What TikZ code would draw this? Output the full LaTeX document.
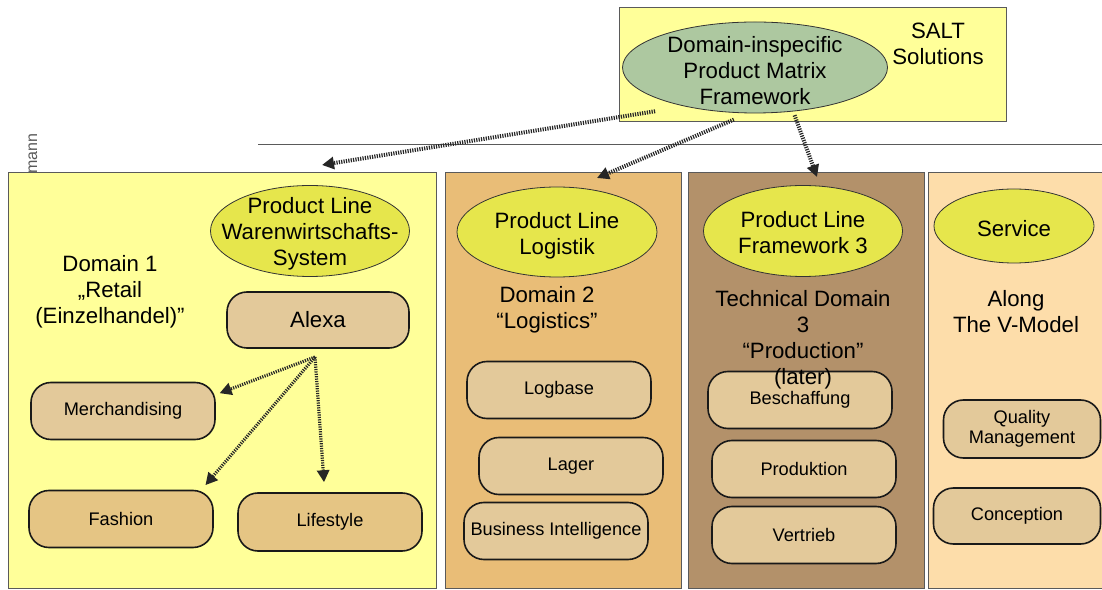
\documentclass[tikz,border=0pt]{standalone}
\usepackage{fontspec}
\setmainfont{Liberation Sans}
\usetikzlibrary{shapes.geometric, arrows.meta}
\definecolor{saltcolor}{RGB}{255,255,153}
\definecolor{matrixcolor}{RGB}{173,200,160}
\definecolor{retailcolor}{RGB}{255,255,153}
\definecolor{logisticscolor}{RGB}{233,189,119}
\definecolor{productioncolor}{RGB}{179,145,106}
\definecolor{servicecolor}{RGB}{253,221,170}
\definecolor{plcolor}{RGB}{230,230,76}
\definecolor{modulecolor}{RGB}{227,201,154}
\definecolor{retailmodcolor}{RGB}{229,197,132}
\definecolor{framecolor}{RGB}{90,90,90}
\newcommand{\bigfont}{\fontsize{11.1}{13}\selectfont}
\newcommand{\smallfont}{\fontsize{9.1}{10}\selectfont}
\tikzset{
  plellipse/.style={ellipse, draw=black!80, fill=plcolor, inner sep=0pt},
  modbox/.style={rectangle, rounded corners=10pt, draw=black!90, line width=0.8pt, fill=modulecolor,
    minimum width=92pt, minimum height=28.5pt, inner sep=0pt, align=center, font=\smallfont},
  domtext/.style={align=center, font=\bigfont},
  hatcharrow/.style={draw=black!85, line width=2pt, dash pattern=on 0.6pt off 0.6pt, -{Triangle[length=6pt,width=6pt]}}
}

\begin{document}
\begin{tikzpicture}[x=0.5pt, y=0.5pt]
\useasboundingbox (0,0) rectangle (1102,589);

% side label
\node[rotate=90, anchor=base east, inner sep=0pt, text=black!65, font=\fontsize{8}{9}\selectfont] (author) at (37,456) {mann};

% domain columns
\draw[framecolor, fill=retailcolor] (8,1) rectangle (436,417);
\draw[framecolor, fill=logisticscolor] (445,1) rectangle (681,417);
\draw[framecolor, fill=productioncolor] (688,1) rectangle (924,417);
\draw[framecolor, fill=servicecolor] (928,1) rectangle (1110,417);
\draw[framecolor] (258,445) -- (1102,445);

% SALT
\draw[framecolor, fill=saltcolor] (619,468) rectangle (1006,582);
\node[ellipse, draw=black!80, fill=matrixcolor, inner sep=0pt,
  minimum width=132.5pt, minimum height=45.5pt] (pmf) at (755,521.5) {};
\node[domtext] (pmftext) at (755,518.5) {Domain-inspecific\\Product Matrix\\Framework};
\node[domtext] (salt) at (938,545) {SALT\\Solutions};

% product lines
\node[plellipse, minimum width=99.5pt, minimum height=45.5pt] (pl1) at (310,358) {};
\node[domtext] (pl1text) at (310,355) {Product Line\\Warenwirtschafts-\\System};
\node[plellipse, minimum width=100pt, minimum height=45pt] (pl2) at (557,357) {};
\node[domtext] (pl2text) at (557,353) {Product Line\\Logistik};
\node[plellipse, minimum width=99.5pt, minimum height=45.5pt] (pl3) at (803,358) {};
\node[domtext] (pl3text) at (803,356) {Product Line\\Framework 3};
\node[plellipse, minimum width=80pt, minimum height=37pt] (service) at (1014,363) {};
\node[domtext] (servicetext) at (1014,360) {Service};

% Domain 1
\node[modbox, minimum width=91pt, minimum height=28pt, font=\bigfont] (alexa) at (318,269) {Alexa};
\node[modbox] (merch) at (123,178) {Merchandising};
\node[modbox, fill=retailmodcolor] (fashion) at (121,70) {Fashion};
\node[modbox, fill=retailmodcolor, minimum height=29pt] (lifestyle) at (330,67) {Lifestyle};

% Domain 2
\node[modbox] (logbase) at (559,199) {Logbase};
\node[modbox] (lager) at (571,123) {Lager};
\node[modbox] (bi) at (556,58) {Business Intelligence};

% Domain 3
\node[modbox] (besch) at (800,189) {Beschaffung};
\node[modbox] (prod) at (804,120) {Produktion};
\node[modbox] (vertrieb) at (804,54) {Vertrieb};

% Service
\node[modbox, minimum width=78.5pt, minimum height=29pt] (quality) at (1022,160) {Quality\\Management};
\node[modbox, minimum width=83.5pt, minimum height=28pt] (conception) at (1017,73) {Conception};

% domain texts
\node[domtext] (retail) at (110,297.5) {Domain 1\\„Retail\\(Einzelhandel)”};
\node[domtext] (logistics) at (547,279) {Domain 2\\“Logistics”};
\node[domtext] (production) at (803,249.5) {Technical Domain\\3\\“Production”\\(later)};
\node[domtext] (vmodel) at (1016,277) {Along\\The V-Model};

% arrows
\coordinate (in1) at (322,424);
\coordinate (in2) at (597,411);
\coordinate (in3) at (817,412);
\coordinate (fan) at (315,232);
\draw[hatcharrow, shorten <=15pt] (pmf.209) -- (in1);
\draw[hatcharrow, shorten <=8pt] (pmf.262) -- (in2);
\draw[hatcharrow, shorten <=2pt] (pmf.311) -- (in3);
\draw[hatcharrow, line width=1.6pt, shorten >=2pt] (fan) -- (merch.10);
\draw[hatcharrow, line width=1.6pt, shorten >=3pt] (fan) -- (fashion.20);
\draw[hatcharrow, line width=1.6pt, shorten >=5pt] (fan) -- (lifestyle.100);
\end{tikzpicture}
\end{document}
